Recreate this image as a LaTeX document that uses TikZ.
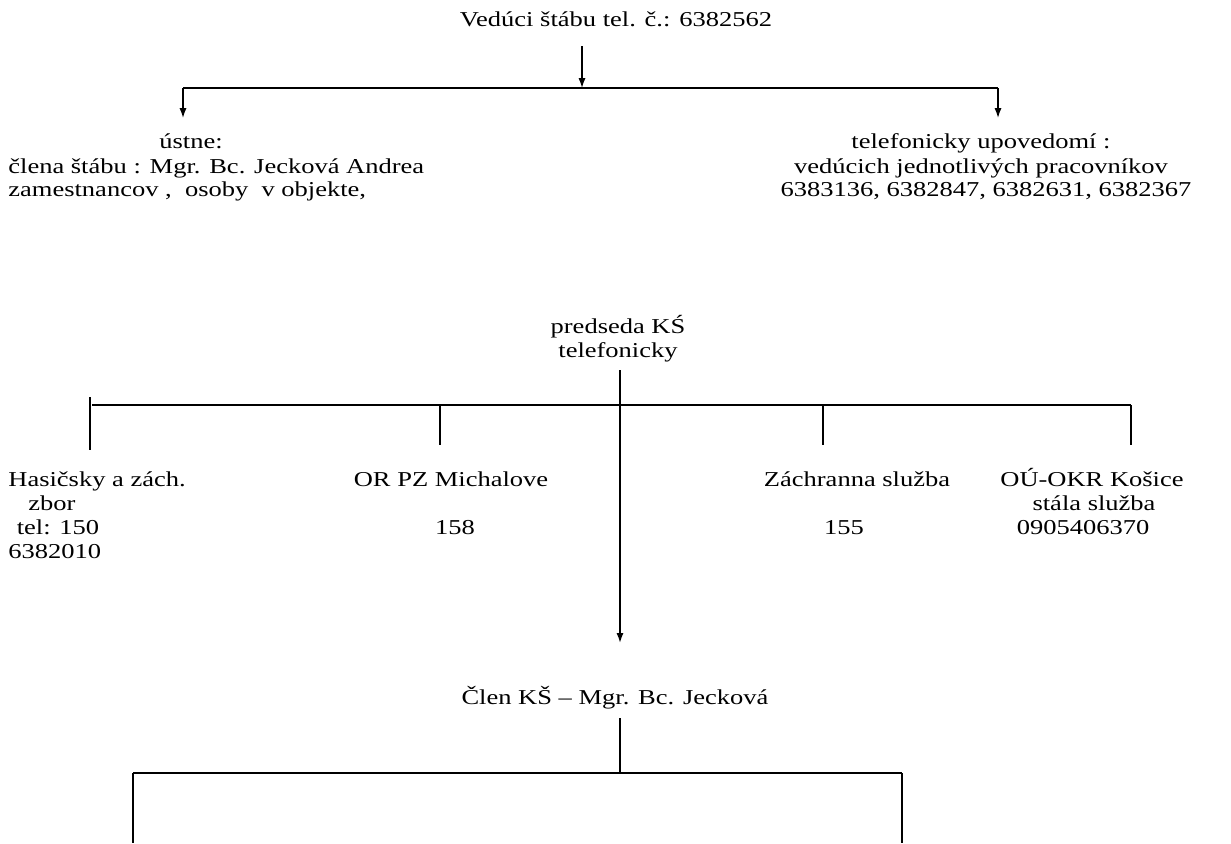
\documentclass[tikz,border=0pt]{standalone}
\usepackage{fontspec}
\setmainfont{Liberation Serif}[FakeStretch=1.25]
\usetikzlibrary{arrows.meta}
\tikzset{
  txt/.style={anchor=base, inner sep=0pt, font=\fontsize{10.6pt}{12pt}\selectfont},
  txtl/.style={txt, anchor=base west},
  conn/.style={line width=0.7pt},
  bar/.style={line width=1.3pt},
  arr/.style={line width=0.7pt, -{Latex[length=5pt,width=3.6pt]}}
}
\begin{document}
\begin{tikzpicture}[x=0.5pt,y=-0.5pt]
\useasboundingbox (0,0) rectangle (1231,843);
% top
\node[txt] (head) at (616,26) {Vedúci štábu tel. č.: 6382562};
\coordinate (h0) at (582,46);
\coordinate (hb) at (582,88);
\coordinate (hl) at (183,88);
\coordinate (hr) at (998,88);
\draw[arr] (h0) -- (hb);
\draw[bar] (hl) -- (hr);
\node[txt] (ust) at (191,148) {ústne:};
\node[txtl] (cl1) at (8,173) {člena štábu : Mgr. Bc. Jecková Andrea};
\node[txtl] (cl2) at (8,196) {zamestnancov ,\ \ osoby\ \ v objekte,};
\node[txt] (tel1) at (981,148) {telefonicky upovedomí :};
\node[txt] (tel2) at (981,173) {vedúcich jednotlivých pracovníkov};
\node[txt] (tel3) at (986,196) {6383136, 6382847, 6382631, 6382367};
\coordinate (al) at (183,118);
\coordinate (ar) at (998,118);
\draw[arr] (hl) -- (al);
\draw[arr] (hr) -- (ar);
% middle
\node[txt] (pred1) at (618,333) {predseda KŚ};
\node[txt] (pred2) at (618,357) {telefonicky};
\coordinate (m0) at (620,370);
\coordinate (m1) at (620,643);
\draw[line width=0.9pt, -{Latex[length=5pt,width=3.6pt]}] (m0) -- (m1);
\coordinate (bl) at (92,405);
\coordinate (br) at (1131,405);
\draw[bar] (bl) -- (br);
\coordinate (t1a) at (90,397); \coordinate (t1b) at (90,450);
\draw[line width=1.2pt] (t1a) -- (t1b);
\coordinate (t2a) at (440,405); \coordinate (t2b) at (440,445);
\draw[conn] (t2a) -- (t2b);
\coordinate (t3a) at (823,405); \coordinate (t3b) at (823,445);
\draw[conn] (t3a) -- (t3b);
\coordinate (t4a) at (1131,405); \coordinate (t4b) at (1131,445);
\draw[conn] (t4a) -- (t4b);
% row texts
\node[txtl] (has1) at (8,486) {Hasičsky a zách.};
\node[txt] (has2) at (52,510) {zbor};
\node[txt] (has3) at (58,534) {tel: 150};
\node[txtl] (has4) at (8,558) {6382010};
\node[txt] (or1) at (451,486) {OR PZ Michalove};
\node[txt] (or2) at (455,534) {158};
\node[txt] (zs1) at (857,486) {Záchranna služba};
\node[txt] (zs2) at (844,534) {155};
\node[txt] (ou1) at (1092,486) {OÚ-OKR Košice};
\node[txt] (ou2) at (1094,510) {stála služba};
\node[txt] (ou3) at (1083,534) {0905406370};
% bottom
\node[txt] (clen) at (615,704) {Člen KŠ – Mgr. Bc. Jecková};
\coordinate (c0) at (620,718);
\coordinate (c1) at (620,773);
\draw[line width=1.1pt] (c0) -- (c1);
\coordinate (bbl) at (133,773);
\coordinate (bbr) at (902,773);
\draw[bar] (bbl) -- (bbr);
\coordinate (bbl2) at (133,843);
\coordinate (bbr2) at (902,843);
\draw[conn] (bbl) -- (bbl2);
\draw[conn] (bbr) -- (bbr2);
\end{tikzpicture}
\end{document}
